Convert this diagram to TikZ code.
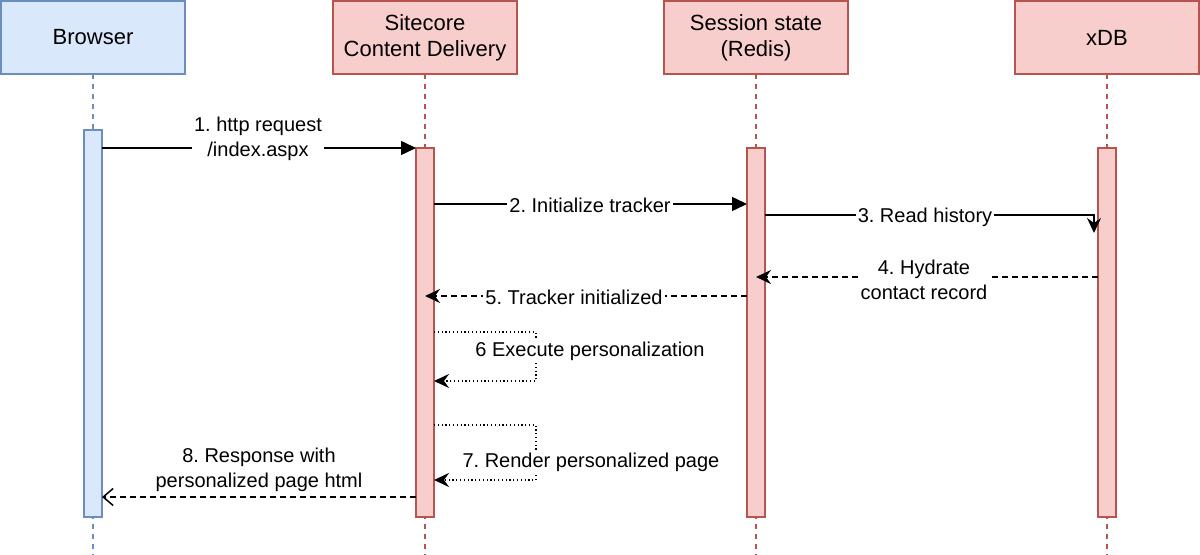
\documentclass[tikz,border=0pt]{standalone}
\usepackage{fontspec}
\setmainfont{Liberation Sans}
\usetikzlibrary{
    arrows.meta,
    positioning,
    calc,
}
\frenchspacing

\definecolor{blueFill}{HTML}{DAE8FC}
\definecolor{blueLine}{HTML}{6C8EBF}
\definecolor{redFill}{HTML}{F8CECC}
\definecolor{redLine}{HTML}{B85450}

\begin{document}
\begin{tikzpicture}[
        x=0.5pt, y=-0.5pt,
        actor/.style={
            rectangle, line width=0.8pt, outer sep=0pt,
            minimum width=92pt, minimum height=36.5pt,
            align=center, font=\fontsize{11}{13}\selectfont
        },
        blueactor/.style={actor, draw=blueLine, fill=blueFill},
        redactor/.style={actor, draw=redLine, fill=redFill},
        bar/.style={
            rectangle, line width=0.8pt, outer sep=0pt, inner sep=0pt,
            minimum width=9pt
        },
        bluebar/.style={bar, draw=blueLine, fill=blueFill},
        redbar/.style={bar, draw=redLine, fill=redFill},
        lifeline/.style={line width=0.75pt, dash pattern=on 2.5pt off 2.5pt},
        msg/.style={line width=0.75pt, -{Triangle[length=7.5pt, width=7pt]}},
        readmsg/.style={line width=0.75pt, -{Stealth[length=7.5pt, width=7pt, inset=2.5pt]}},
        reply/.style={line width=0.75pt, dash pattern=on 3pt off 2pt,
            -{Stealth[length=7.5pt, width=7pt, inset=2.5pt]}},
        selfmsg/.style={line width=0.7pt, dash pattern=on 0.6pt off 1.3pt,
            -{Stealth[length=7.5pt, width=7pt, inset=2.5pt]}},
        response/.style={line width=0.75pt, dash pattern=on 3pt off 2pt,
            -{Straight Barb[length=5pt, width=8.5pt]}},
        msglabel/.style={
            fill=white, inner xsep=1pt, inner ysep=1.5pt,
            align=center, font=\fontsize{10}{12.5}\selectfont
        },
    ]

    \useasboundingbox (0,0) rectangle (1200,555);

    % -- Actors --
    \node[blueactor] (browser) at (93,37.5) {Browser};
    \node[redactor, right=74pt of browser] (sitecore) {Sitecore\\Content Delivery};
    \node[redactor, right=73.5pt of sitecore] (session) {Session state\\(Redis)};
    \node[redactor, right=83.5pt of session] (xdb) {xDB};

    % -- Lifelines --
    \draw[lifeline, blueLine] (browser.south) -- (browser.south |- 0,555);
    \draw[lifeline, redLine] (sitecore.south) -- (sitecore.south |- 0,555);
    \draw[lifeline, redLine] (session.south) -- (session.south |- 0,555);
    \draw[lifeline, redLine] (xdb.south) -- (xdb.south |- 0,555);

    % -- Activation bars --
    \node[bluebar, below=28pt of browser, minimum height=193.5pt] (browserbar) {};
    \node[redbar, below=37pt of sitecore, minimum height=184.5pt] (sitecorebar) {};
    \node[redbar, below=37pt of session, minimum height=184.5pt] (sessionbar) {};
    \node[redbar, below=37pt of xdb, minimum height=184.5pt] (xdbbar) {};

    % -- Messages --
    \draw[msg] (browserbar.east |- 0,148) -- (sitecorebar.west |- 0,148);
    \draw[msg] (sitecorebar.east |- 0,204) -- (sessionbar.west |- 0,204);
    \coordinate (readend) at (1094,233);
    \draw[readmsg] (sessionbar.east |- 0,215) -| (readend);
    \draw[reply] (xdbbar.west |- 0,277) -- (sessionbar.center |- 0,277);
    \draw[reply] (sessionbar.west |- 0,296) -- (sitecorebar.center |- 0,296);
    \draw[selfmsg] (sitecorebar.east |- 0,332) -- ++(102,0) -- ++(0,49)
        -- (sitecorebar.east |- 0,381);
    \draw[selfmsg] (sitecorebar.east |- 0,425) -- ++(102,0) -- ++(0,55)
        -- (sitecorebar.east |- 0,480);
    \draw[response] (sitecorebar.west |- 0,497) -- (browserbar.east |- 0,497);

    % -- Message labels --
    \node[msglabel] (request) at (258,139) {1. http request\\/index.aspx};
    \node[msglabel] (init) at (590,205) {2. Initialize tracker};
    \node[msglabel] (history) at (925,217) {3. Read history};
    \node[msglabel] (hydrate) at (924,280) {4. Hydrate\\contact record};
    \node[msglabel] (initdone) at (574,297) {5. Tracker initialized};
    \node[msglabel] (execute) at (590,351) {6 Execute personalization};
    \node[msglabel] (render) at (591,462) {7. Render personalized page};
    \node[msglabel] (answer) at (259,470) {8. Response with\\personalized page html};

\end{tikzpicture}
\end{document}
